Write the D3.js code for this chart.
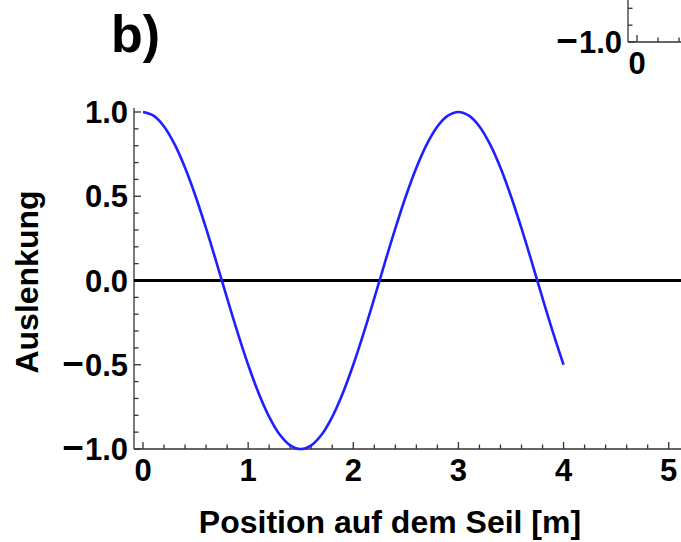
<!DOCTYPE html>
<html>
<head>
<meta charset="utf-8">
<script src="https://cdn.jsdelivr.net/npm/d3@7"></script>
<style>
  html, body { margin: 0; padding: 0; background: #fff; }
  svg { display: block; }
  text { font-family: "Liberation Sans", Arial, sans-serif; font-weight: bold; fill: #000; }
</style>
</head>
<body>
<svg id="chart" width="681" height="542"></svg>
<script>
// ---- data ----
const positions = [0,0.1,0.2,0.3,0.4,0.5,0.6,0.7,0.8,0.9,1.0,1.1,1.2,1.3,1.4,1.5,1.6,1.7,1.8,1.9,2.0,
                   2.1,2.2,2.3,2.4,2.5,2.6,2.7,2.8,2.9,3.0,3.1,3.2,3.3,3.4,3.5,3.6,3.7,3.8,3.9,4.0];
const displacement = [1.000,0.978,0.914,0.809,0.669,0.500,0.309,0.105,-0.105,-0.309,-0.500,
                      -0.669,-0.809,-0.914,-0.978,-1.000,-0.978,-0.914,-0.809,-0.669,-0.500,
                      -0.309,-0.105,0.105,0.309,0.500,0.669,0.809,0.914,0.978,1.000,
                      0.978,0.914,0.809,0.669,0.500,0.309,0.105,-0.105,-0.309,-0.500];
const xTickValues = [0, 1, 2, 3, 4, 5];
const xTickLabels = ["0", "1", "2", "3", "4", "5"];
const yTickValues = [1.0, 0.5, 0.0, -0.5, -1.0];
const yTickLabels = ["1.0", "0.5", "0.0", "\u22120.5", "\u22121.0"];
// fragment of the neighbouring panel visible at the top right
const insetYTickValues = [-1.0];
const insetYTickLabels = ["\u22121.0"];
const insetXTickValues = [0];
const insetXTickLabels = ["0"];
const panelLabel = "b)";
const xTitle = "Position auf dem Seil [m]";
const yTitle = "Auslenkung";

const svg = d3.select("#chart");

// ---- scales ----
const x = d3.scaleLinear().domain([0, 5]).range([143, 668.7]);
const y = d3.scaleLinear().domain([-1, 1]).range([449, 112]);

const axisColor = "#333";

function addLabel(sel, label) {
  if (label.startsWith("\u2212")) {
    sel.append("tspan").style("font-size", "37px").text("\u2212");
    sel.append("tspan").attr("dx", 1).text(label.slice(1));
  } else {
    sel.text(label);
  }
}

function drawFrame(g, xs, ys, xRight, yTop, yVals, yLabs, xVals, xLabs) {
  const axisX = xs(-0.0856);
  const axisY = ys(-1);
  g.append("line").attr("x1", axisX).attr("x2", axisX)
    .attr("y1", yTop).attr("y2", axisY)
    .attr("stroke", axisColor).attr("stroke-width", 1.3);
  g.append("line").attr("x1", axisX).attr("x2", xRight)
    .attr("y1", axisY).attr("y2", axisY)
    .attr("stroke", axisColor).attr("stroke-width", 1.3);
  const yMinor = d3.range(-10, 11).map(v => v / 10);
  g.selectAll(null).data(yMinor).enter().append("line")
    .attr("x1", axisX).attr("x2", d => axisX + (Math.abs(Math.round(d * 10)) % 5 === 0 ? 7 : 4.5))
    .attr("y1", d => ys(d)).attr("y2", d => ys(d))
    .attr("stroke", axisColor).attr("stroke-width", 1.3);
  const xMinor = d3.range(0, 26).map(v => v / 5);
  g.selectAll(null).data(xMinor).enter().append("line")
    .attr("x1", d => xs(d)).attr("x2", d => xs(d))
    .attr("y1", axisY).attr("y2", d => axisY - (Math.round(d * 5) % 5 === 0 ? 7 : 4.5))
    .attr("stroke", axisColor).attr("stroke-width", 1.3);
  g.selectAll(null).data(yVals).enter().append("text")
    .attr("x", axisX - 6).attr("y", d => ys(d) + 11)
    .attr("text-anchor", "end")
    .style("font-size", "31px")
    .each(function (d, i) { addLabel(d3.select(this), yLabs[i]); });
  g.selectAll(null).data(xVals).enter().append("text")
    .attr("x", d => xs(d)).attr("y", axisY + 32)
    .attr("text-anchor", "middle")
    .style("font-size", "31px")
    .text((d, i) => xLabs[i]);
}

// ---- fragment of the previous panel (top right) ----
const xi = x.copy().range([x.range()[0] + 494, x.range()[1] + 494]);
const yi = y.copy().range([y.range()[0] - 407, y.range()[1] - 407]);
drawFrame(svg.append("g"), xi, yi, 690, -200,
  insetYTickValues, insetYTickLabels, insetXTickValues, insetXTickLabels);

// ---- main frame ----
drawFrame(svg.append("g"), x, y, 690, 108,
  yTickValues, yTickLabels, xTickValues, xTickLabels);

// zero line
svg.append("line")
  .attr("x1", x(-0.0856)).attr("x2", 681)
  .attr("y1", y(0)).attr("y2", y(0))
  .attr("stroke", "#000").attr("stroke-width", 3);

// curve
const line = d3.line()
  .x((d, i) => x(positions[i]))
  .y(d => y(d))
  .curve(d3.curveCatmullRom.alpha(0.5));
svg.append("path")
  .datum(displacement)
  .attr("d", line)
  .attr("fill", "none")
  .attr("stroke", "#1f1fff")
  .attr("stroke-width", 2.6);

// titles
svg.append("text")
  .attr("x", 390).attr("y", 533)
  .attr("text-anchor", "middle")
  .style("font-size", "32px")
  .text(xTitle);

svg.append("text")
  .attr("transform", "translate(38,282) rotate(-90)")
  .attr("text-anchor", "middle")
  .style("font-size", "32px")
  .text(yTitle);

svg.append("text")
  .attr("x", 111).attr("y", 52)
  .style("font-size", "52px")
  .text(panelLabel);
</script>
</body>
</html>
